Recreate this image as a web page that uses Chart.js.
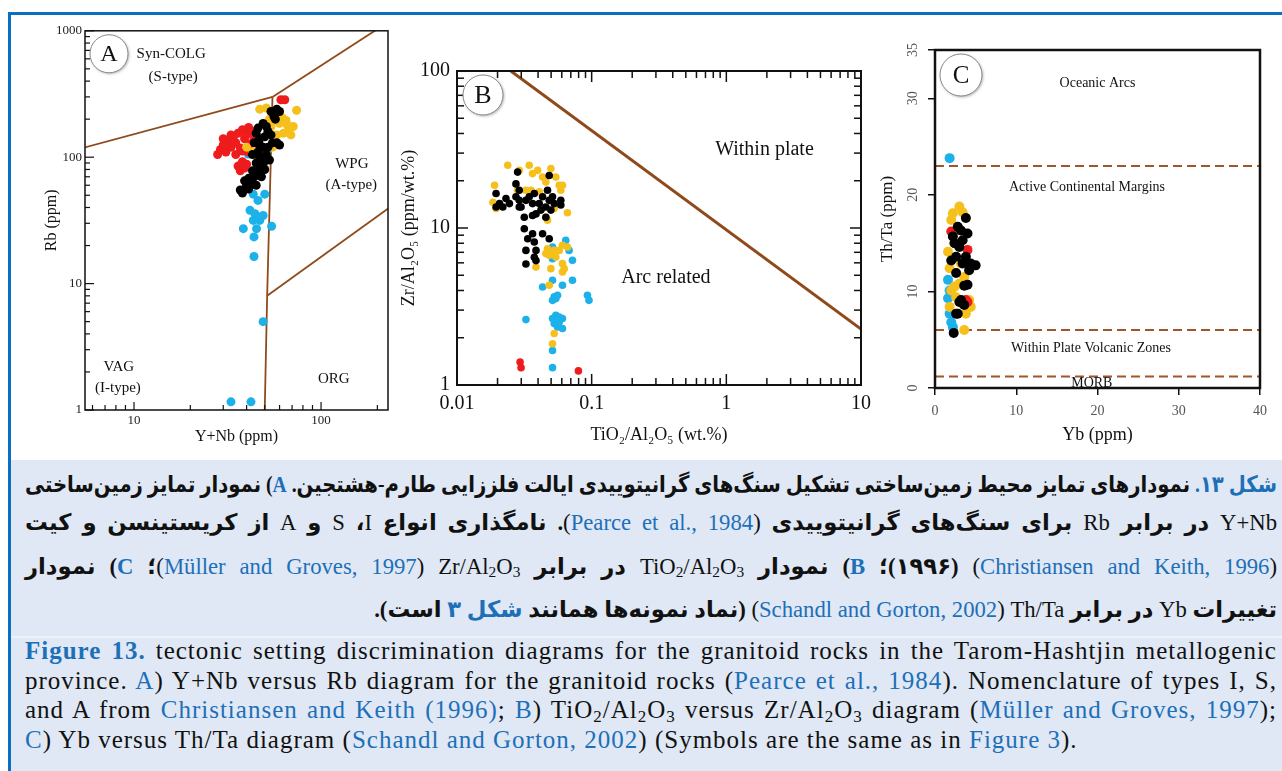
<!DOCTYPE html>
<html><head><meta charset="utf-8">
<script src="https://cdn.jsdelivr.net/npm/chart.js@4.4.1/dist/chart.umd.min.js"></script>
<style>
html,body{margin:0;padding:0;background:#fff;width:1282px;height:771px;overflow:hidden;position:relative;font-family:"Liberation Serif","DejaVu Sans",serif;}
.abs{position:absolute;}
#topbar{left:8px;top:12px;width:1274px;height:3px;background:#0b6fc1;}
#leftbar{left:8px;top:12px;width:3px;height:759px;background:#0b6fc1;}
#capbg{left:11px;top:460px;width:1271px;height:311px;background:#dfe8f4;}
#sep{left:11px;top:636px;width:1271px;height:2px;background:#eef3fa;}
canvas{position:absolute;}
.ln{position:absolute;left:25px;width:1252px;height:30px;line-height:30px;white-space:nowrap;color:#111;}
.fa{direction:rtl;text-align:right;font-weight:bold;}
.fa bdi{font-weight:normal;}
.en{text-align:left;}
.bl{color:#1d6fb8;}
.b{font-weight:bold;}
sub{font-size:0.68em;vertical-align:-0.22em;line-height:0;}
</style></head>
<body>
<div class="abs" id="topbar"></div>
<div class="abs" id="leftbar"></div>
<div class="abs" id="capbg"></div>
<div class="abs" id="sep"></div>
<canvas id="cA" width="365" height="430" style="left:30px;top:20px;width:365px;height:430px"></canvas>
<canvas id="cB" width="480" height="400" style="left:398px;top:50px;width:480px;height:400px"></canvas>
<canvas id="cC" width="400" height="420" style="left:875px;top:30px;width:400px;height:420px"></canvas>

<div class="ln fa" style="top:470px"><span class="in"><span class="bl">شکل ۱۳.</span> نمودارهای تمایز محیط زمین&zwnj;ساختی تشکیل سنگ&zwnj;های گرانیتوییدی ایالت فلززایی طارم-هشتجین. <span class="bl">A</span>) نمودار تمایز زمین&zwnj;ساختی</span></div>
<div class="ln fa" style="top:508px"><span class="in"><bdi dir="ltr">Y+Nb</bdi> در برابر <bdi dir="ltr">Rb</bdi> برای سنگ&zwnj;های گرانیتوییدی <bdi dir="ltr">(<span class="bl">Pearce et al., 1984</span>)</bdi>. نامگذاری انواع <bdi>I</bdi>، <bdi>S</bdi> و <bdi>A</bdi> از کریستینسن و کیت</span></div>
<div class="ln fa" style="top:552px"><span class="in"><bdi dir="ltr">(<span class="bl">Christiansen and Keith, 1996</span>)</bdi> (۱۹۹۶)؛ <span class="bl">B</span>) نمودار <bdi dir="ltr">TiO<sub>2</sub>/Al<sub>2</sub>O<sub>3</sub></bdi> در برابر <bdi dir="ltr">Zr/Al<sub>2</sub>O<sub>3</sub></bdi> <bdi dir="ltr">(<span class="bl">Müller and Groves, 1997</span>)</bdi>؛ <span class="bl">C</span>) نمودار</span></div>
<div class="ln fa" style="top:595px"><span class="in">تغییرات <bdi dir="ltr">Yb</bdi> در برابر <bdi dir="ltr">Th/Ta</bdi> <bdi dir="ltr">(<span class="bl">Schandl and Gorton, 2002</span>)</bdi> (نماد نمونه&zwnj;ها همانند <span class="bl">شکل ۳</span> است).</span></div>

<div class="ln en" style="top:636px"><span class="in"><span class="bl b">Figure 13.</span> tectonic setting discrimination diagrams for the granitoid rocks in the Tarom-Hashtjin metallogenic</span></div>
<div class="ln en" style="top:665.5px"><span class="in">province. <span class="bl">A</span>) Y+Nb versus Rb diagram for the granitoid rocks (<span class="bl">Pearce et al., 1984</span>). Nomenclature of types I, S,</span></div>
<div class="ln en" style="top:695px"><span class="in">and A from <span class="bl">Christiansen and Keith (1996)</span>; <span class="bl">B</span>) TiO<sub>2</sub>/Al<sub>2</sub>O<sub>3</sub> versus Zr/Al<sub>2</sub>O<sub>3</sub> diagram (<span class="bl">Müller and Groves, 1997</span>);</span></div>
<div class="ln en" style="top:724.5px"><span class="in"><span class="bl">C</span>) Yb versus Th/Ta diagram (<span class="bl">Schandl and Gorton, 2002</span>) (Symbols are the same as in <span class="bl">Figure 3</span>).</span></div>

<script>
// ---------------- DATA ----------------
// Panel A : Y+Nb (ppm) vs Rb (ppm)
const aBlackX = [37,38,40,39,42,44,46,47,45,48,43,46,49,44,47,45,52,54,51,56,54,58,60,57,55,52,53,50,48,45,41,43,49,51,47,50,46,49,58,60,41,47];
const aBlackY = [55,52,60,65,62,70,75,83,90,95,105,110,120,130,140,155,160,150,175,210,230,240,230,200,130,120,95,80,70,60,68,78,88,105,125,145,170,185,130,125,56,100];
const aRedX = [28,29,30,31,32,33,34,35,36,37,38,39,40,41,42,43,35,38,44,36,37,39,40,38,46,47,49,61,64,33,30,41];
const aRedY = [105,115,125,110,135,120,145,130,155,118,165,140,150,172,128,160,105,112,140,85,78,82,88,92,140,120,115,285,285,150,140,110];
const aYelX = [47,51,56,60,65,67,71,69,74,63,58,54,46,51,55,43,40,62,66,53];
const aYelY = [240,245,195,185,195,165,175,150,235,155,150,175,100,105,120,110,120,205,180,200];
const aBlueX = [40.8,43.4,46,50,41.7,44.3,43.4,47,45.2,49,38.4,54.4,43.8,43.8,49,33,42.2,52];
const aBlueY = [106,51,45.5,51,38,35.7,31.6,31.6,27.2,34.6,27.2,28.4,23.4,16.4,5,1.16,1.16,115];
// Pearce et al. (1984) boundaries
const aSynVagX = [2,55],    aSynVagY = [80,300];
const aSynWpgX = [55,400],  aSynWpgY = [300,2000];
const aVagWpgX = [55,51.5,50], aVagWpgY = [300,8,1];
const aOrgWpgX = [51.5,2000], aOrgWpgY = [8,400];
const aXTicks = [10,100];
const aYTicks = [1,10,100,1000];

// Panel B : TiO2/Al2O5 vs Zr/Al2O5
const bBlackX = [0.0195,0.0207,0.0231,0.0195,0.0274,0.0274,0.029,0.0282,0.0299,0.0325,0.0344,0.0364,0.0375,0.0386,0.0408,0.0432,0.0457,0.0484,0.0498,0.0512,0.0457,0.047,0.0484,0.059,0.059,0.0316,0.0316,0.0335,0.0325,0.0364,0.0375,0.0386,0.0375,0.0325,0.0386,0.0432,0.0484,0.029,0.0245,0.0219,0.0527,0.042,0.0364,0.029];
const bBlackY = [16.6,14.3,15.4,13.6,15.8,19.1,17.4,22.7,13.6,15,15.8,14.3,16.6,12.3,14.3,15.8,13.6,15,13,15.8,11.7,17.4,21.6,15,14,11.7,9.9,8.55,7.2,9.2,8.15,7.2,6.5,5.9,6.2,9.2,8.55,13.6,14.3,13.6,14.3,13,12,15];
const bYelX = [0.0238,0.029,0.0344,0.0364,0.0397,0.0432,0.0457,0.0498,0.0542,0.0574,0.0607,0.059,0.019,0.0185,0.0195,0.0282,0.0325,0.0354,0.0408,0.0457,0.047,0.0661,0.047,0.0484,0.0527,0.0574,0.0607,0.0607,0.0625,0.0607,0.0386,0.0498,0.0484,0.0527,0.0512,0.0661,0.0512,0.0457,0.0542,0.0527];
const bYelY = [25.1,23.3,25.1,22.2,23.3,21.1,19.6,23.9,21.1,18.7,18.7,17.4,18.7,14.6,13.3,17.4,17.4,17.4,17,11.7,11.2,12.5,7.38,6.7,7.2,7.2,7.76,5.93,5.51,5.25,5.65,5.51,4.32,2.13,1.83,7.57,6.87,6.87,6.53,13.3];
const bBlueX = [0.0512,0.0527,0.0642,0.068,0.072,0.0512,0.0607,0.072,0.0432,0.0527,0.0542,0.0558,0.0512,0.093,0.0955,0.0325,0.0512,0.0542,0.0574,0.0607,0.0527,0.0558,0.0607,0.0574,0.0512,0.0512,0.0512];
const bBlueY = [7.57,7.2,8.34,7.2,6.22,4.65,4.32,4.65,4.21,3.64,3.55,3.73,3.46,3.73,3.46,2.61,2.65,2.78,2.71,2.65,2.46,2.34,2.29,2.52,1.66,1.29,6.38];
const bRedX = [0.0294,0.0299,0.0797];
const bRedY = [1.40,1.29,1.23];
const bLineX = [0.0251,10], bLineY = [100,2.27];
const bXTicks = [0.01,0.1,1,10];
const bYTicks = [1,10,100];

// Panel C : Yb vs Th/Ta
const cBlackX = [3.8,2.8,4,2.2,3.4,2,3,3.8,5,4.2,2.6,3.6,4,3,3.6,2.8,2.3,3.4,2.6,3.2,2.6,4.4,3.2,2.4];
const cBlackY = [17.6,16.7,16,15.7,15.3,13.2,14.6,13.6,12.7,12.2,11.9,10.6,10.7,8.9,8.6,7.7,5.7,12.9,13.6,9.1,7.7,12.9,16.3,15];
const cRedX = [2,4,3.8,4];
const cRedY = [16.2,14.3,9.1,8.9];
const cYelX = [3,2.2,2,3.4,1.6,1.8,2,1.8,2.6,3,3.6,4.4,3.6,3.8,2.8,2.4,3.2,2.4,3.4,4.2];
const cYelY = [18.8,18.1,17.4,18.2,14.1,12.4,10.1,8.4,9.4,10.8,11.5,8.4,6,7.7,16.3,15,12.9,10.5,8.7,9.1];
const cBlueX = [1.8,1.6,1.6,1.8,2,2.2,1.8];
const cBlueY = [23.8,11.2,9.3,7.7,6.8,6.3,10.1];
const cBoundY = [23,6,1.2];
const cXRange = [0,40];
const cXTicks = [0,10,20,30,40];
const cYTicks = [0,10,20,30,35];

// ---------------- STYLE ----------------
const SERIF = "'Liberation Serif','DejaVu Serif',serif";
const COL = {black:'#000000', red:'#ee1c1c', yel:'#f6c01c', blue:'#1db1ea', line:'#8f4a1c', dash:'#a0552a'};
const pts = (xs,ys) => xs.map((x,i)=>({x:x,y:ys[i]}));
function logMinor(min,max){
  const out=[];
  for(let e=Math.floor(Math.log10(min)); e<=Math.ceil(Math.log10(max)); e++){
    for(let m=2;m<=9;m++){ const v=m*Math.pow(10,e); if(v>=min*0.999 && v<=max*1.001) out.push(v); }
  }
  return out;
}
function scatterSet(data,color,r,order){ return {data:data,backgroundColor:color,borderWidth:0,pointRadius:r,pointHoverRadius:r,order:order}; }
function lineSet(data,color,w,dash){ return {data:data,showLine:true,borderColor:color,borderWidth:w,borderDash:dash||[],pointRadius:0,fill:false,order:20,tension:0}; }

const decor = {
  id:'decor',
  afterDraw(chart,args,o){
    const ctx=chart.ctx, a=chart.chartArea, sx=chart.scales.x, sy=chart.scales.y;
    ctx.save();
    (o.labels||[]).forEach(l=>{
      ctx.font=l.font; ctx.fillStyle=l.color||'#111'; ctx.textAlign='center'; ctx.textBaseline='middle';
      ctx.fillText(l.text, sx.getPixelForValue(l.x), sy.getPixelForValue(l.y));
    });
    ctx.strokeStyle='#111';
    (o.ticks||[]).forEach(t=>{
      const vert = (t.side==='left'||t.side==='right');
      const sc = vert? sy : sx;
      ctx.lineWidth=t.width||1.2;
      const draw=(vals,len)=>vals.forEach(v=>{
        const p=sc.getPixelForValue(v);
        ctx.beginPath();
        if(t.side==='left'){ctx.moveTo(a.left,p);ctx.lineTo(a.left+len,p);}
        else if(t.side==='right'){ctx.moveTo(a.right,p);ctx.lineTo(a.right-len,p);}
        else if(t.side==='bottom'){ctx.moveTo(p,a.bottom);ctx.lineTo(p,a.bottom-len);}
        else {ctx.moveTo(p,a.top);ctx.lineTo(p,a.top+len);}
        ctx.stroke();
      });
      draw(t.major,t.majorLen); draw(t.minor||[],t.minorLen||0);
    });
    ctx.lineWidth=o.frame||1.5; ctx.strokeStyle='#111';
    ctx.strokeRect(a.left,a.top,a.right-a.left,a.bottom-a.top);
    if(o.yRot){
      const y=o.yRot;
      ctx.font=y.font; ctx.fillStyle=y.color; ctx.textAlign='center'; ctx.textBaseline='middle';
      y.values.forEach(v=>{
        ctx.save(); ctx.translate(a.left+y.dx, sy.getPixelForValue(v)); ctx.rotate(-Math.PI/2);
        ctx.fillText(String(v),0,0); ctx.restore();
      });
    }
    if(o.circle){
      const c=o.circle, cx=a.left+c.dx, cy=a.top+c.dy;
      ctx.save();
      ctx.shadowColor='rgba(0,0,0,0.35)'; ctx.shadowBlur=3; ctx.shadowOffsetX=1; ctx.shadowOffsetY=1;
      ctx.beginPath(); ctx.arc(cx,cy,c.r,0,Math.PI*2); ctx.fillStyle='#fff'; ctx.fill();
      ctx.restore();
      ctx.beginPath(); ctx.arc(cx,cy,c.r,0,Math.PI*2); ctx.strokeStyle='#8a8a8a'; ctx.lineWidth=1; ctx.stroke();
      ctx.font=c.font; ctx.fillStyle='#111'; ctx.textAlign='center'; ctx.textBaseline='middle';
      ctx.fillText(c.letter,cx,cy+1);
    }
    ctx.restore();
  }
};

const baseOpts = {responsive:false, animation:false, events:[], plugins:{legend:{display:false}, tooltip:{enabled:false}}};

// ---------------- PANEL A ----------------
new Chart(document.getElementById('cA'), {
  type:'scatter',
  data:{datasets:[
    scatterSet(pts(aBlackX,aBlackY),COL.black,4.5,1),
    scatterSet(pts(aYelX,aYelY),COL.yel,4.5,2),
    scatterSet(pts(aRedX,aRedY),COL.red,4.5,3),
    scatterSet(pts(aBlueX,aBlueY),COL.blue,4.5,4),
    lineSet(pts(aSynVagX,aSynVagY),COL.line,1.8),
    lineSet(pts(aSynWpgX,aSynWpgY),COL.line,1.8),
    lineSet(pts(aVagWpgX,aVagWpgY),COL.line,1.8),
    lineSet(pts(aOrgWpgX,aOrgWpgY),COL.line,1.8)
  ]},
  options:Object.assign({}, baseOpts, {
    layout:{padding:{left:0,top:10,right:7,bottom:0}},
    scales:{
      x:{type:'logarithmic',min:5.47,max:228,
        afterBuildTicks:s=>{s.ticks=aXTicks.map(v=>({value:v}));},
        afterFit:s=>{s.height=40;},
        grid:{display:false,drawTicks:false}, border:{display:false},
        ticks:{autoSkip:false,maxRotation:0,padding:3,color:'#222',font:{family:SERIF,size:13},callback:v=>String(v)},
        title:{display:true,text:'Y+Nb (ppm)',color:'#111',font:{family:SERIF,size:16},padding:{top:0,bottom:4}}},
      y:{type:'logarithmic',min:1,max:1000,
        afterBuildTicks:s=>{s.ticks=aYTicks.map(v=>({value:v}));},
        afterFit:s=>{s.width=55;},
        grid:{display:false,drawTicks:false}, border:{display:false},
        ticks:{autoSkip:false,padding:3,color:'#222',font:{family:SERIF,size:13},callback:v=>String(v)},
        title:{display:true,text:'Rb (ppm)',color:'#111',font:{family:SERIF,size:16},padding:{top:12,bottom:0}}}
    },
    plugins:Object.assign({}, baseOpts.plugins, {decor:{
      frame:1.5,
      ticks:[
        {side:'left',major:aYTicks,majorLen:9,minor:logMinor(1,1000),minorLen:5,width:1.2},
        {side:'bottom',major:aXTicks,majorLen:8,minor:logMinor(5.47,228),minorLen:5,width:1.2}
      ],
      labels:[
        {text:'Syn-COLG',x:15.8,y:657,font:'15px '+SERIF},
        {text:'(S-type)',x:16.2,y:433,font:'15px '+SERIF},
        {text:'WPG',x:146,y:89,font:'15px '+SERIF},
        {text:'(A-type)',x:145,y:59.7,font:'15px '+SERIF},
        {text:'VAG',x:8.3,y:2.18,font:'15px '+SERIF},
        {text:'(I-type)',x:8.2,y:1.49,font:'15px '+SERIF},
        {text:'ORG',x:117,y:1.76,font:'15px '+SERIF}
      ],
      circle:{letter:'A',dx:24,dy:23,r:19,font:'24px '+SERIF}
    }})
  }),
  plugins:[decor]
});

// ---------------- PANEL B ----------------
new Chart(document.getElementById('cB'), {
  type:'scatter',
  data:{datasets:[
    scatterSet(pts(bBlackX,bBlackY),COL.black,3.8,1),
    scatterSet(pts(bYelX,bYelY),COL.yel,3.8,2),
    scatterSet(pts(bBlueX,bBlueY),COL.blue,3.8,3),
    scatterSet(pts(bRedX,bRedY),COL.red,3.8,4),
    lineSet(pts(bLineX,bLineY),COL.line,3)
  ]},
  options:Object.assign({}, baseOpts, {
    layout:{padding:{left:0,top:21,right:15,bottom:0}},
    scales:{
      x:{type:'logarithmic',min:0.01,max:10,
        afterBuildTicks:s=>{s.ticks=bXTicks.map(v=>({value:v}));},
        afterFit:s=>{s.height=65;},
        grid:{display:false,drawTicks:false}, border:{display:false},
        ticks:{autoSkip:false,maxRotation:0,padding:7,color:'#111',font:{family:SERIF,size:20},callback:v=>String(v)},
        title:{display:true,text:'TiO₂/Al₂O₅ (wt.%)',color:'#111',font:{family:SERIF,size:18},padding:{top:0,bottom:4}}},
      y:{type:'logarithmic',min:1,max:100,
        afterBuildTicks:s=>{s.ticks=bYTicks.map(v=>({value:v}));},
        afterFit:s=>{s.width=59;},
        grid:{display:false,drawTicks:false}, border:{display:false},
        ticks:{autoSkip:false,padding:7,color:'#111',font:{family:SERIF,size:20},callback:v=>String(v)},
        title:{display:true,text:'Zr/Al₂O₅ (ppm/wt.%)',color:'#111',font:{family:SERIF,size:18},padding:{top:0,bottom:0}}}
    },
    plugins:Object.assign({}, baseOpts.plugins, {decor:{
      frame:2,
      ticks:[
        {side:'left',major:bYTicks,majorLen:11,minor:logMinor(1,100),minorLen:7,width:1.5},
        {side:'right',major:bYTicks,majorLen:11,minor:logMinor(1,100),minorLen:7,width:1.5},
        {side:'bottom',major:bXTicks,majorLen:11,minor:logMinor(0.01,10),minorLen:7,width:1.5},
        {side:'top',major:bXTicks,majorLen:11,minor:logMinor(0.01,10),minorLen:7,width:1.5}
      ],
      labels:[
        {text:'Within plate',x:1.92,y:31.4,font:'20px '+SERIF},
        {text:'Arc related',x:0.356,y:4.8,font:'20px '+SERIF}
      ],
      circle:{letter:'B',dx:26,dy:24,r:20,font:'26px '+SERIF}
    }})
  }),
  plugins:[decor]
});

// ---------------- PANEL C ----------------
new Chart(document.getElementById('cC'), {
  type:'scatter',
  data:{datasets:[
    scatterSet(pts(cBlackX,cBlackY),COL.black,5,1),
    scatterSet(pts(cRedX,cRedY),COL.red,5,2),
    scatterSet(pts(cYelX,cYelY),COL.yel,5,3),
    scatterSet(pts(cBlueX,cBlueY),COL.blue,5,4),
    lineSet(pts(cXRange,[cBoundY[0],cBoundY[0]]),COL.dash,2,[9,5]),
    lineSet(pts(cXRange,[cBoundY[1],cBoundY[1]]),COL.dash,2,[9,5]),
    lineSet(pts(cXRange,[cBoundY[2],cBoundY[2]]),COL.dash,2,[9,5])
  ]},
  options:Object.assign({}, baseOpts, {
    layout:{padding:{left:0,top:20,right:10,bottom:0}},
    scales:{
      x:{type:'linear',min:0,max:40,
        afterBuildTicks:s=>{s.ticks=cXTicks.map(v=>({value:v}));},
        afterFit:s=>{s.height=62;},
        grid:{display:true,drawOnChartArea:false,drawTicks:true,tickLength:7,color:'#111',lineWidth:1.5}, border:{display:false},
        ticks:{autoSkip:false,maxRotation:0,padding:8,color:'#555',font:{family:SERIF,size:14},callback:v=>String(v)},
        title:{display:true,text:'Yb (ppm)',color:'#111',font:{family:SERIF,size:18},padding:{top:0,bottom:4}}},
      y:{type:'linear',min:0,max:35,
        afterBuildTicks:s=>{s.ticks=cYTicks.map(v=>({value:v}));},
        afterFit:s=>{s.width=60;},
        grid:{display:true,drawOnChartArea:false,drawTicks:true,tickLength:7,color:'#111',lineWidth:1.5}, border:{display:false},
        ticks:{display:false},
        title:{display:true,text:'Th/Ta (ppm)',color:'#111',font:{family:SERIF,size:17},padding:{top:2,bottom:0}}}
    },
    plugins:Object.assign({}, baseOpts.plugins, {decor:{
      frame:2.5,
      yRot:{values:cYTicks,dx:-22,font:'14px '+SERIF,color:'#555'},
      labels:[
        {text:'Oceanic Arcs',x:20,y:31.6,font:'14px '+SERIF},
        {text:'Active Continental Margins',x:18.7,y:20.8,font:'14px '+SERIF},
        {text:'Within Plate Volcanic Zones',x:19.2,y:4.1,font:'14px '+SERIF},
        {text:'MORB',x:19.3,y:0.5,font:'14px '+SERIF}
      ],
      circle:{letter:'C',dx:26,dy:25,r:21,font:'25px '+SERIF}
    }})
  }),
  plugins:[decor]
});

// ---------------- caption fitting (manual justification) ----------------
function fitLines(cls,targetLast,maxW,cap,lsCap){
  const lines=[...document.querySelectorAll('.ln.'+cls)];
  const rtl = cls==='fa';
  const W = l=>l.querySelector('.in').getBoundingClientRect().width;
  lines.forEach(l=>{ l.style.fontSize='20px'; });
  const last=lines[lines.length-1];
  const s=Math.min(cap, 20*targetLast/W(last));
  lines.forEach(l=>{ l.style.fontSize=s.toFixed(2)+'px'; });
  const nch=last.textContent.length;
  const ls=Math.max(0, Math.min(lsCap, (targetLast-W(last))/nch));
  if(ls>0) lines.forEach(l=>{ l.style.letterSpacing=ls.toFixed(2)+'px'; });
  lines.forEach((l,i)=>{
    if(i===lines.length-1) return;
    const w=W(l);
    if(w>maxW){
      l.style.transformOrigin = rtl?'right center':'left center';
      l.style.transform='scaleX('+(maxW/w).toFixed(4)+')';
    } else {
      const n=(l.textContent.match(/ /g)||[]).length;
      if(n>0) l.style.wordSpacing=((maxW-w)/n).toFixed(2)+'px';
    }
  });
}
fitLines('fa',903,1252,40,0);
fitLines('en',1060,1252,25,1.0);
</script>
</body></html>
